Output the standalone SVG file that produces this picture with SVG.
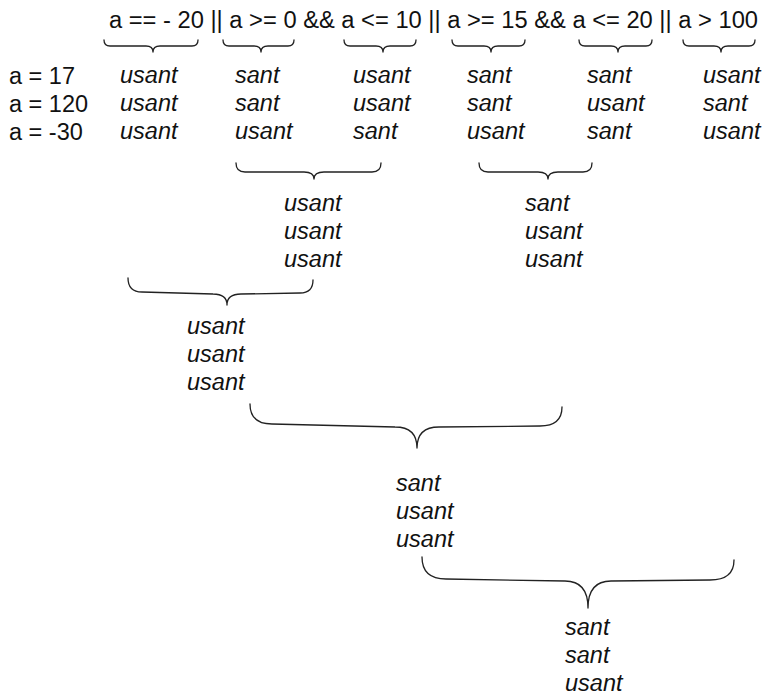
<svg xmlns="http://www.w3.org/2000/svg" width="768" height="696" viewBox="0 0 768 696">
<style>
text{font-family:"Liberation Sans",Arial,sans-serif;fill:#111;font-size:23.5px}
.v{font-style:italic}
.b{fill:none;stroke:#222;stroke-width:1.3;stroke-linecap:round;stroke-linejoin:round}
</style>
<rect width="768" height="696" fill="#fff"/>
<g id="expr"><text x="109" y="28" font-size="22" textLength="649" lengthAdjust="spacingAndGlyphs">a == - 20 || a &gt;= 0 &amp;&amp; a &lt;= 10 || a &gt;= 15 &amp;&amp; a &lt;= 20 || a &gt; 100</text></g>
<g id="values"><text x="9" y="84">a = 17</text><text x="9" y="112">a = 120</text><text x="9" y="140">a = -30</text></g>
<g id="c1"><text class="v" x="120" y="83">usant</text><text class="v" x="120" y="111">usant</text><text class="v" x="120" y="139">usant</text></g>
<g id="c2"><text class="v" x="235" y="83">sant</text><text class="v" x="235" y="111">sant</text><text class="v" x="235" y="139">usant</text></g>
<g id="c3"><text class="v" x="353" y="83">usant</text><text class="v" x="353" y="111">usant</text><text class="v" x="353" y="139">sant</text></g>
<g id="c4"><text class="v" x="467" y="83">sant</text><text class="v" x="467" y="111">sant</text><text class="v" x="467" y="139">usant</text></g>
<g id="c5"><text class="v" x="587" y="83">sant</text><text class="v" x="587" y="111">usant</text><text class="v" x="587" y="139">sant</text></g>
<g id="c6"><text class="v" x="703" y="83">usant</text><text class="v" x="703" y="111">sant</text><text class="v" x="703" y="139">usant</text></g>
<g id="and1"><text class="v" x="284" y="211">usant</text><text class="v" x="284" y="239">usant</text><text class="v" x="284" y="267">usant</text></g>
<g id="and2"><text class="v" x="525" y="211">sant</text><text class="v" x="525" y="239">usant</text><text class="v" x="525" y="267">usant</text></g>
<g id="or1"><text class="v" x="187" y="334">usant</text><text class="v" x="187" y="362">usant</text><text class="v" x="187" y="390">usant</text></g>
<g id="or2"><text class="v" x="396" y="491">sant</text><text class="v" x="396" y="519">usant</text><text class="v" x="396" y="547">usant</text></g>
<g id="or3"><text class="v" x="565" y="635">sant</text><text class="v" x="565" y="663">sant</text><text class="v" x="565" y="691">usant</text></g>
<g id="connectors" class="b">
<path d="M104 40 Q104 46 110 46 L146 46 Q153 46 153 52 Q153 46 160 46 L192 46 Q198 46 198 40"/>
<path d="M223 40 Q223 46 229 46 L254 46 Q261 46 261 52 Q261 46 268 46 L288 46 Q294 46 294 40"/>
<path d="M344 40 Q344 46 350 46 L376 46 Q383 46 383 52 Q383 46 390 46 L410 46 Q416 46 416 40"/>
<path d="M452 40 Q452 46 458 46 L484 46 Q491 46 491 52 Q491 46 498 46 L519 46 Q525 46 525 40"/>
<path d="M579 40 Q579 46 585 46 L611 46 Q618 46 618 52 Q618 46 625 46 L646 46 Q652 46 652 40"/>
<path d="M683 40 Q683 46 689 46 L714 46 Q721 46 721 52 Q721 46 728 46 L749 46 Q755 46 755 40"/>
<path d="M236 163 Q236 172 245 172 L304 172 Q314 172 314 179 Q314 172 324 172 L372 172 Q381 172 381 163"/>
<path d="M479 163 Q479 172 488 172 L538 172 Q548 172 548 179 Q548 172 558 172 L583 172 Q592 172 592 163"/>
<path d="M128 278 Q128 292 142 292 L213 294 Q227 294 227 305 Q227 294 241 294 L300 293 Q313 293 313 280"/>
<path d="M250 404 Q250 424 272 424 L395 427 Q417 427 417 448 Q417 427 439 427 L540 426 Q562 426 562 407"/>
<path d="M422 557 Q422 579 446 579 L565 581 Q588 581 588 608 Q588 581 611 581 L710 580 Q734 580 734 560"/>
</g>
</svg>
